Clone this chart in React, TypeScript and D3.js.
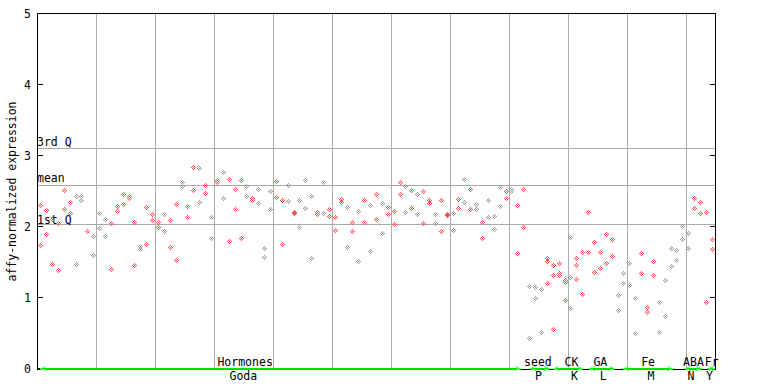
import React from 'react';
import * as d3 from 'd3';

const yTicks = [0, 1, 2, 3, 4, 5];
const statLabels = ['3rd Q', 'mean', '1st Q'];
const statValues = [3.108, 2.587, 2.042];

const columnValues: number[][] = [
  [2.30, 1.74], [2.23, 1.90], [2.10, 1.47], [2.05, 1.39], [2.52, 2.24], [2.35, 2.19], [2.43, 1.47], [2.43, 2.38], [1.94, 1.94], [1.87, 1.60],
  [2.19, 1.98], [2.11, 1.87], [2.05, 1.40], [2.29, 2.22], [2.46, 2.32], [2.43, 2.40], [2.07, 1.46], [1.72, 1.68], [2.28, 1.76], [2.18, 2.09],
  [2.07, 2.00], [2.18, 1.94], [2.09, 1.71], [2.32, 1.53], [2.63, 2.57], [2.29, 2.14], [2.84, 2.52], [2.83, 2.35], [2.59, 2.47], [2.14, 1.84],
  [2.66, 2.63], [2.77, 2.40], [2.67, 1.80], [2.53, 2.25], [2.66, 1.84], [2.57, 2.43], [2.40, 2.37], [2.53, 2.33], [1.70, 1.57], [2.50, 2.25],
  [2.64, 2.42], [2.38, 1.76], [2.59, 2.36], [2.21, 2.19], [2.38, 2.00], [2.66, 2.26], [2.43, 1.55], [2.21, 2.18], [2.63, 2.19], [2.24, 2.15],
  [2.14, 1.95], [2.39, 2.35], [2.28, 1.71], [2.07, 1.94], [2.22, 1.52], [2.38, 2.07], [2.30, 1.66], [2.46, 2.11], [2.33, 1.91], [2.28, 2.18],
  [2.22, 2.04], [2.63, 2.46], [2.57, 2.21], [2.52, 2.26], [2.46, 2.18], [2.50, 2.05], [2.38, 2.33], [2.18, 2.05], [2.38, 1.93], [2.18, 2.16],
  [2.19, 1.95], [2.39, 2.26], [2.67, 2.34], [2.53, 2.24], [2.32, 2.25], [2.07, 1.84], [2.38, 2.14], [2.15, 1.97], [2.56, 2.29], [2.50, 2.40],
  [2.53, 2.50], [2.30, 1.63], [2.53, 2.00], [1.16, 0.43], [1.15, 1.00], [1.12, 0.52], [1.55, 1.52, 1.21], [1.46, 1.32, 0.56], [1.49, 1.35, 1.32], [1.24, 1.22, 0.97],
  [1.85, 1.29, 0.85], [1.56, 1.46, 1.26], [1.64, 1.05], [2.21, 1.64], [1.78, 1.36], [1.64, 1.42], [1.90, 1.49], [1.83, 1.59], [1.04, 0.83], [1.35, 1.21],
  [1.49, 1.18], [1.00, 0.50], [1.62, 1.35], [0.87, 0.80], [1.52, 1.31], [0.94, 0.52], [1.25, 0.74], [1.70, 1.45], [1.67, 1.53], [2.01, 1.82],
  [1.91, 1.70], [2.40, 2.26], [2.35, 2.19], [2.21, 0.94], [1.82, 1.68],
];

// sample kind per column: r = treatment (red), g = control (gray)
const columnKind =
  'rrrrrrggrg' + 'ggrrrrrgrr' + 'rgrrgrrgrg' + 'rgrrrgrggg' + 'rrgrgggrgr' +
  'rrgrgrgrgr' + 'rrgrgrrgrr' + 'grgrgrgggr' + 'grrgggrrrr' + 'grrrrrrrgg' +
  'ggrrrggggg' + 'grrrr';

const groupNames = ['Hormones', 'seed', 'CK', 'GA', 'Fe', 'ABA', 'Fr'];
const groupCodes = ['Goda', 'P', 'K', 'L', 'M', 'N', 'Y'];
const groupStart = [-0.1, 83, 87, 93, 98.8, 109.3, 113.2];
const groupEnd = [81.5, 86.5, 92, 97.5, 107.4, 112.3, 114.4];
const groupNameAt = [34.7, 84.4, 90.1, 95, 103.1, 110.8, 113.9];
const groupCodeAt = [34.4, 84.5, 90.6, 95.5, 103.6, 110.4, 113.5];

const W = 768, H = 384;
const left = 37, right = 715, top = 14, bottom = 369;
const FONT = '"DejaVu Sans Mono", monospace';
const FS = 11.5;
const RED = '#ff5050';
const GRAY = '#9a9a9a';
const GRID = '#aaaaaa';
const gridStep = 59;

const dotOffsets = [[0, -2], [-1, -1], [1, -1], [-2, 0], [0, 0], [2, 0], [-1, 1], [1, 1], [0, 2]];

export default function App() {
  const x = d3.scaleLinear().domain([0, 114]).range([40.7, 712.3]);
  const y = d3.scaleLinear().domain([0, 5]).range([bottom, top]);
  const gridXs = d3.range(1, 12).map((k) => left + k * gridStep).filter((v) => v < right);
  const crisp = (v: number) => Math.round(v) + 0.5;

  const dots: { path: string; color: string }[] = [];
  columnValues.forEach((vals, i) => {
    vals.forEach((v) => {
      const px = Math.floor(x(i));
      const py = Math.floor(y(v));
      const path = dotOffsets.map(([dx, dy]) => `M${px + dx},${py + dy}h1v1h-1z`).join('');
      dots.push({ path, color: columnKind[i] === 'g' ? GRAY : RED });
    });
  });

  const statOffset = [2.5, 3.5, 0.5];
  const greenY = bottom - 0.5;

  return (
    <svg width={W} height={H} style={{ position: 'absolute', left: 0, top: 0, background: '#fff' }} shapeRendering="crispEdges">
      <rect x={0} y={0} width={W} height={H} fill="#fff" />
      {/* vertical grid */}
      {gridXs.map((gx, i) => (
        <line key={'g' + i} x1={crisp(gx)} x2={crisp(gx)} y1={top} y2={bottom} stroke={GRID} strokeWidth={1} />
      ))}
      {/* stat lines */}
      {statValues.map((v, i) => (
        <line key={'s' + i} x1={left} x2={right} y1={crisp(y(v))} y2={crisp(y(v))} stroke={GRID} strokeWidth={1} />
      ))}
      {statValues.map((v, i) => (
        <text key={'st' + i} x={left} y={y(v) - statOffset[i]} fontFamily={FONT} fontSize={FS} fill="#000">
          {statLabels[i]}
        </text>
      ))}
      {/* frame */}
      <line x1={left + 0.5} x2={left + 0.5} y1={top} y2={bottom + 1} stroke="#000" />
      <line x1={right + 0.5} x2={right + 0.5} y1={top} y2={bottom + 1} stroke="#000" />
      <line x1={left} x2={right + 1} y1={top - 0.5} y2={top - 0.5} stroke="#000" />
      <line x1={left} x2={right + 1} y1={bottom + 0.5} y2={bottom + 0.5} stroke="#000" />
      {/* ticks */}
      {yTicks.map((t) => (
        <g key={'t' + t}>
          <line x1={left} x2={left + 6} y1={crisp(y(t)) - 1} y2={crisp(y(t)) - 1} stroke="#000" />
          <line x1={right - 5} x2={right} y1={crisp(y(t)) - 1} y2={crisp(y(t)) - 1} stroke="#000" />
          <text x={31} y={y(t)} textAnchor="end" dominantBaseline="central" fontFamily={FONT} fontSize={FS} fill="#000">
            {t}
          </text>
        </g>
      ))}
      <text
        x={0}
        y={0}
        transform={`translate(12,${(top + bottom) / 2}) rotate(-90)`}
        textAnchor="middle"
        dominantBaseline="central"
        fontFamily={FONT}
        fontSize={FS}
        fill="#000"
      >
        affy-normalized expression
      </text>
      {/* dots */}
      {dots.map((d, i) => (
        <path key={'d' + i} d={d.path} fill={d.color} />
      ))}
      {/* group arrows */}
      {groupNames.map((name, i) => {
        const x1 = x(groupStart[i]);
        const x2 = x(groupEnd[i]);
        return (
          <g key={'grp' + i}>
            <line x1={x1} x2={x2} y1={greenY} y2={greenY} stroke="#00e000" strokeWidth={2} />
            <polyline points={`${x1 + 6},${greenY - 2} ${x1 + 1},${greenY} ${x1 + 6},${greenY + 2}`} fill="none" stroke="#66ff66" strokeWidth={1} />
            <polyline points={`${x2 - 6},${greenY - 2} ${x2 - 1},${greenY} ${x2 - 6},${greenY + 2}`} fill="none" stroke="#66ff66" strokeWidth={1} />
            <text x={x(groupNameAt[i])} y={366} textAnchor="middle" fontFamily={FONT} fontSize={FS} fill="#000">
              {name}
            </text>
            <text x={x(groupCodeAt[i])} y={380} textAnchor="middle" fontFamily={FONT} fontSize={FS} fill="#000">
              {groupCodes[i]}
            </text>
          </g>
        );
      })}
    </svg>
  );
}
